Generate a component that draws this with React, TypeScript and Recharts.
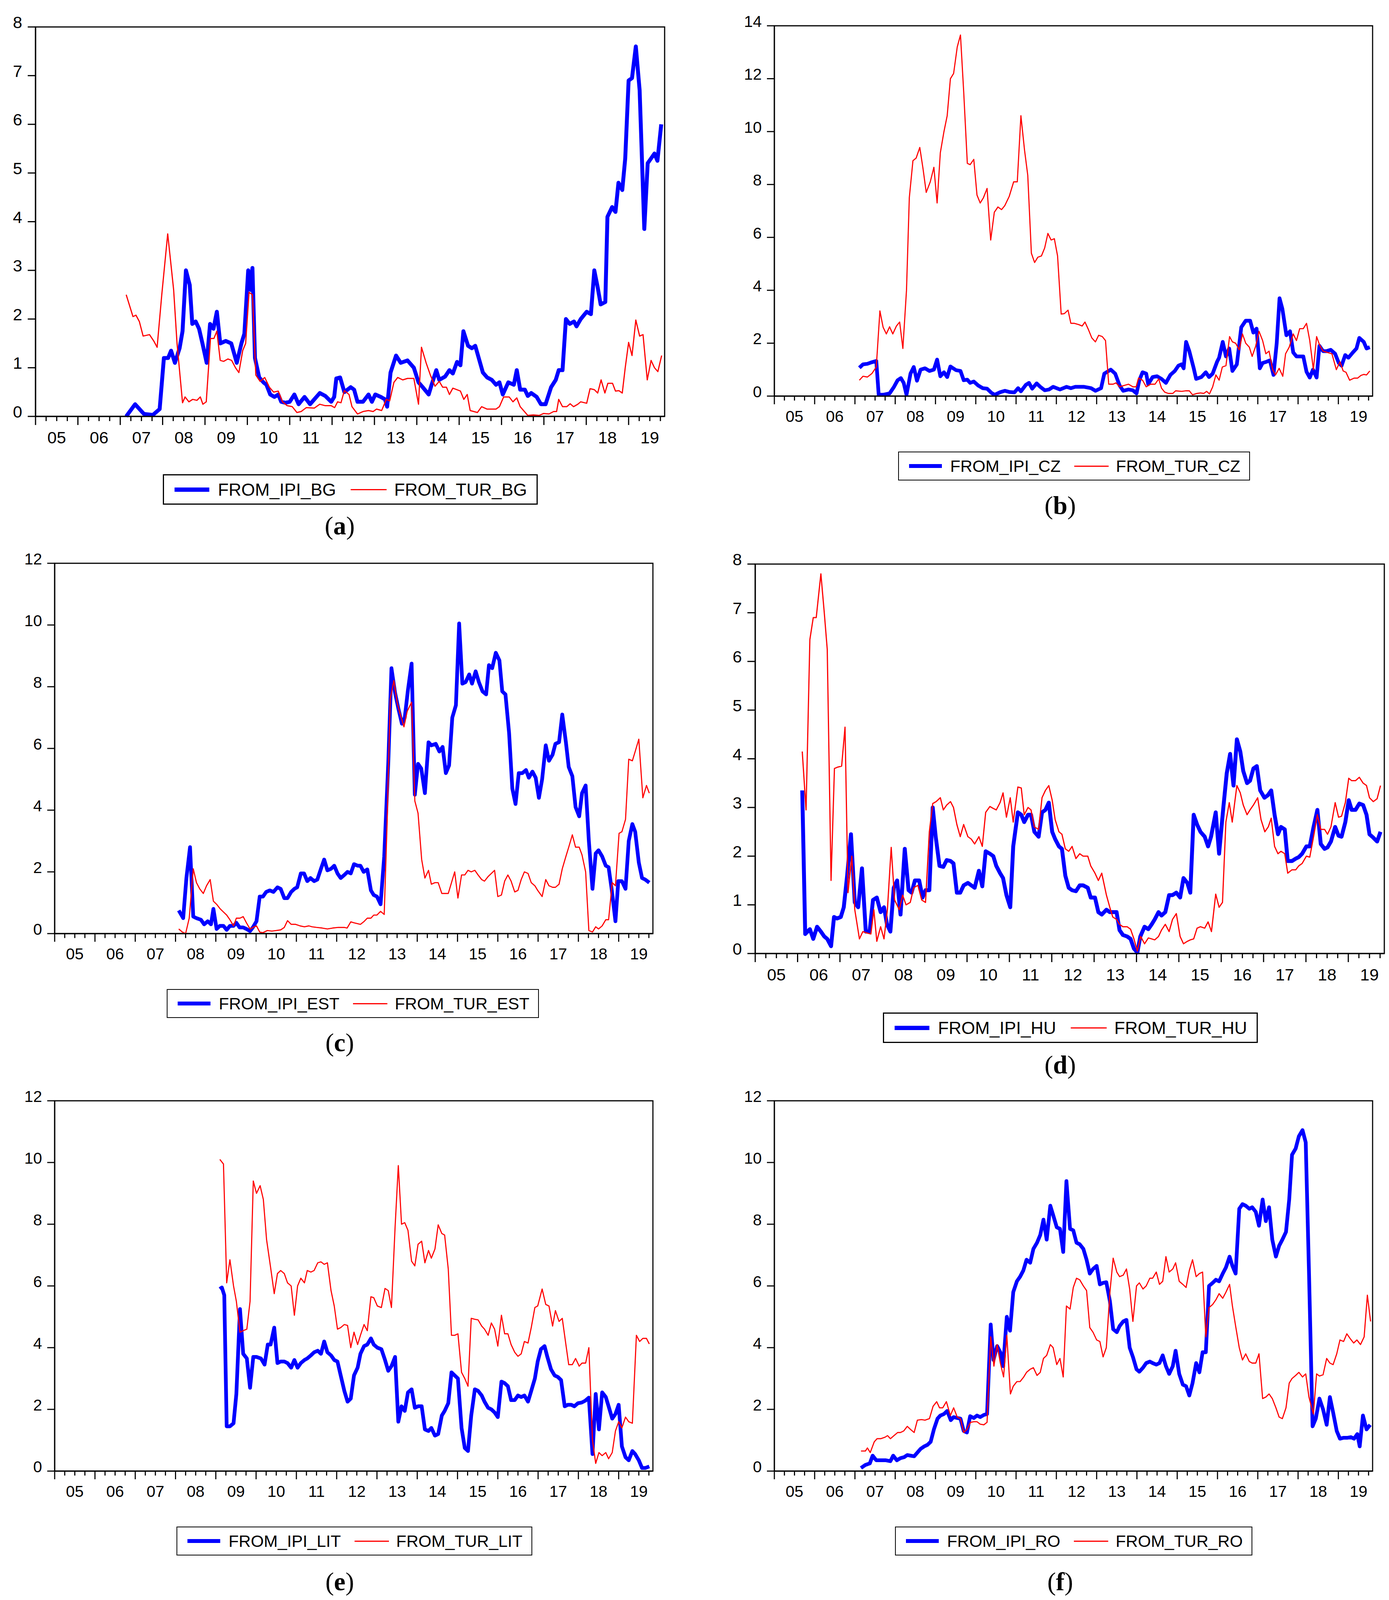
import React from 'react';
import { LineChart, Line, XAxis, YAxis, ReferenceArea } from 'recharts';

// x axis: decimal years, quarterly ticks, labels mid-year
const YEARS = [2005, 2006, 2007, 2008, 2009, 2010, 2011, 2012, 2013, 2014, 2015, 2016, 2017, 2018, 2019];
const YEAR_LABELS = ['05', '06', '07', '08', '09', '10', '11', '12', '13', '14', '15', '16', '17', '18', '19'];
const X_MIN = 2005;
const X_MAX = 2019.85;

const Y_TICKS_8 = [0, 1, 2, 3, 4, 5, 6, 7, 8];
const Y_TICKS_12 = [0, 2, 4, 6, 8, 10, 12];
const Y_TICKS_14 = [0, 2, 4, 6, 8, 10, 12, 14];
const Y_TICKS_16 = [0, 2, 4, 6, 8, 10, 12, 14, 16];

// [year, value] pairs
const IPI_BG = [[2007.14,0],[2007.35,0.25],[2007.56,0.05],[2007.77,0.03],[2007.93,0.15],[2008.03,1.2],[2008.13,1.2],[2008.2,1.35],[2008.29,1.1],[2008.4,1.4],[2008.47,1.75],[2008.55,3.0],[2008.64,2.7],[2008.7,1.9],[2008.78,1.95],[2008.86,1.8],[2008.94,1.5],[2009.04,1.1],[2009.12,1.9],[2009.2,1.8],[2009.28,2.15],[2009.36,1.5],[2009.49,1.55],[2009.62,1.5],[2009.75,1.1],[2009.86,1.5],[2009.93,1.7],[2010.02,3.0],[2010.07,2.6],[2010.12,3.05],[2010.18,1.2],[2010.28,0.8],[2010.38,0.7],[2010.45,0.65],[2010.54,0.45],[2010.64,0.4],[2010.73,0.45],[2010.8,0.3],[2010.9,0.28],[2011.0,0.3],[2011.11,0.45],[2011.21,0.25],[2011.35,0.4],[2011.48,0.25],[2011.58,0.35],[2011.71,0.48],[2011.84,0.42],[2011.98,0.3],[2012.05,0.4],[2012.1,0.78],[2012.19,0.8],[2012.29,0.5],[2012.44,0.6],[2012.52,0.55],[2012.6,0.3],[2012.73,0.3],[2012.86,0.45],[2012.94,0.3],[2013.02,0.45],[2013.15,0.4],[2013.25,0.35],[2013.3,0.2],[2013.38,0.9],[2013.51,1.25],[2013.62,1.1],[2013.78,1.15],[2013.93,1.0],[2014.04,0.7],[2014.14,0.6],[2014.28,0.45],[2014.35,0.65],[2014.46,0.95],[2014.53,0.75],[2014.67,0.82],[2014.77,0.95],[2014.85,0.88],[2014.95,1.12],[2015.03,1.05],[2015.1,1.75],[2015.21,1.45],[2015.3,1.4],[2015.38,1.45],[2015.56,0.9],[2015.66,0.8],[2015.77,0.75],[2015.87,0.65],[2015.95,0.7],[2016.03,0.45],[2016.16,0.7],[2016.29,0.65],[2016.36,0.95],[2016.44,0.55],[2016.55,0.55],[2016.62,0.42],[2016.7,0.48],[2016.83,0.4],[2016.93,0.25],[2017.04,0.25],[2017.17,0.6],[2017.28,0.75],[2017.35,0.95],[2017.44,0.95],[2017.52,2.0],[2017.61,1.9],[2017.71,1.95],[2017.77,1.85],[2017.87,2.0],[2018.01,2.15],[2018.11,2.1],[2018.19,3.0],[2018.27,2.65],[2018.34,2.3],[2018.45,2.35],[2018.5,4.1],[2018.61,4.3],[2018.69,4.2],[2018.76,4.8],[2018.85,4.65],[2018.92,5.3],[2019.0,6.9],[2019.08,6.95],[2019.17,7.6],[2019.26,6.7],[2019.37,3.85],[2019.45,5.2],[2019.53,5.3],[2019.61,5.4],[2019.68,5.25],[2019.77,6.0]];
const TUR_BG = [[2007.14,2.5],[2007.3,2.05],[2007.37,2.08],[2007.45,1.95],[2007.54,1.65],[2007.69,1.68],[2007.79,1.55],[2007.87,1.42],[2007.98,2.5],[2008.12,3.75],[2008.26,2.6],[2008.34,1.5],[2008.47,0.28],[2008.53,0.4],[2008.62,0.3],[2008.71,0.35],[2008.81,0.33],[2008.89,0.4],[2008.95,0.25],[2009.03,0.3],[2009.13,1.6],[2009.21,1.6],[2009.28,1.75],[2009.36,1.15],[2009.44,1.13],[2009.54,1.18],[2009.63,1.15],[2009.72,1.0],[2009.8,0.9],[2009.89,1.35],[2009.96,1.5],[2010.04,2.55],[2010.12,2.5],[2010.2,0.85],[2010.3,0.72],[2010.41,0.8],[2010.52,0.6],[2010.62,0.5],[2010.73,0.52],[2010.83,0.3],[2010.94,0.22],[2011.06,0.2],[2011.17,0.08],[2011.27,0.1],[2011.39,0.18],[2011.58,0.17],[2011.71,0.25],[2011.84,0.22],[2011.98,0.22],[2012.06,0.18],[2012.13,0.3],[2012.21,0.28],[2012.29,0.53],[2012.4,0.45],[2012.47,0.2],[2012.6,0.05],[2012.73,0.1],[2012.86,0.12],[2012.97,0.1],[2013.05,0.15],[2013.17,0.12],[2013.28,0.35],[2013.36,0.32],[2013.46,0.7],[2013.55,0.8],[2013.67,0.75],[2013.78,0.78],[2013.93,0.78],[2014.04,0.25],[2014.11,1.42],[2014.22,1.1],[2014.32,0.85],[2014.43,0.62],[2014.53,0.72],[2014.61,0.6],[2014.7,0.6],[2014.77,0.45],[2014.85,0.58],[2015.03,0.52],[2015.11,0.35],[2015.19,0.45],[2015.26,0.12],[2015.43,0.08],[2015.53,0.2],[2015.66,0.15],[2015.87,0.15],[2015.95,0.2],[2016.05,0.4],[2016.18,0.4],[2016.27,0.3],[2016.36,0.38],[2016.44,0.2],[2016.62,0.02],[2016.75,0.03],[2016.89,0.02],[2016.99,0.06],[2017.12,0.05],[2017.23,0.1],[2017.3,0.1],[2017.35,0.35],[2017.44,0.2],[2017.54,0.2],[2017.62,0.26],[2017.7,0.2],[2017.8,0.25],[2017.87,0.3],[2018.01,0.27],[2018.09,0.57],[2018.19,0.55],[2018.27,0.48],[2018.35,0.75],[2018.44,0.48],[2018.51,0.68],[2018.62,0.68],[2018.69,0.52],[2018.77,0.53],[2018.85,0.48],[2018.92,1.0],[2019.0,1.52],[2019.08,1.25],[2019.17,1.98],[2019.26,1.65],[2019.34,1.68],[2019.44,0.75],[2019.53,1.15],[2019.61,1.0],[2019.69,0.92],[2019.78,1.25]];

const IPI_CZ = [[2007.11,1.07],[2007.2,1.2],[2007.31,1.22],[2007.42,1.28],[2007.53,1.33],[2007.59,0.05],[2007.7,0.05],[2007.86,0.1],[2007.97,0.35],[2008.06,0.6],[2008.14,0.68],[2008.21,0.5],[2008.28,0.05],[2008.38,0.85],[2008.46,1.1],[2008.54,0.58],[2008.63,1.0],[2008.74,1.05],[2008.85,0.95],[2008.96,1.0],[2009.04,1.38],[2009.12,0.75],[2009.21,0.9],[2009.29,0.72],[2009.37,1.12],[2009.51,0.98],[2009.62,0.95],[2009.7,0.6],[2009.79,0.62],[2009.86,0.5],[2009.95,0.55],[2010.06,0.4],[2010.17,0.3],[2010.28,0.28],[2010.39,0.12],[2010.47,0.05],[2010.61,0.15],[2010.72,0.2],[2010.85,0.15],[2010.96,0.14],[2011.05,0.3],[2011.12,0.18],[2011.24,0.42],[2011.32,0.5],[2011.4,0.28],[2011.51,0.48],[2011.6,0.35],[2011.71,0.22],[2011.82,0.25],[2011.92,0.35],[2012.09,0.25],[2012.25,0.35],[2012.36,0.3],[2012.47,0.35],[2012.69,0.35],[2012.86,0.3],[2012.97,0.2],[2013.11,0.3],[2013.19,0.85],[2013.35,1.0],[2013.46,0.85],[2013.57,0.4],[2013.66,0.2],[2013.79,0.25],[2013.9,0.22],[2013.99,0.1],[2014.06,0.6],[2014.14,0.9],[2014.23,0.85],[2014.28,0.45],[2014.39,0.72],[2014.5,0.75],[2014.61,0.65],[2014.72,0.5],[2014.83,0.8],[2014.94,0.95],[2015.03,1.15],[2015.11,1.2],[2015.16,1.05],[2015.22,2.05],[2015.3,1.7],[2015.41,1.05],[2015.47,0.65],[2015.6,0.72],[2015.71,0.9],[2015.79,0.72],[2015.88,0.85],[2015.99,1.3],[2016.04,1.45],[2016.13,2.05],[2016.21,1.5],[2016.29,1.8],[2016.37,0.95],[2016.48,1.2],[2016.59,2.6],[2016.7,2.85],[2016.81,2.85],[2016.89,2.4],[2016.97,2.55],[2017.05,1.05],[2017.12,1.25],[2017.22,1.3],[2017.3,1.35],[2017.39,0.8],[2017.47,2.0],[2017.54,3.7],[2017.61,3.3],[2017.71,2.3],[2017.8,2.45],[2017.88,1.65],[2017.96,1.5],[2018.13,1.5],[2018.21,0.92],[2018.29,0.7],[2018.37,1.0],[2018.46,0.7],[2018.53,1.9],[2018.62,1.7],[2018.71,1.7],[2018.81,1.75],[2018.92,1.6],[2019.01,1.25],[2019.08,1.15],[2019.17,1.55],[2019.25,1.45],[2019.36,1.65],[2019.45,1.8],[2019.52,2.2],[2019.63,2.05],[2019.7,1.8],[2019.78,1.85]];
const TUR_CZ = [[2007.11,0.6],[2007.2,0.75],[2007.31,0.72],[2007.42,0.85],[2007.53,1.1],[2007.62,3.22],[2007.7,2.6],[2007.78,2.35],[2007.86,2.62],[2007.94,2.35],[2008.03,2.65],[2008.11,2.8],[2008.19,1.8],[2008.28,4.0],[2008.35,7.5],[2008.44,8.9],[2008.52,9.0],[2008.61,9.4],[2008.69,8.6],[2008.77,7.7],[2008.87,8.1],[2008.96,8.65],[2009.04,7.3],[2009.12,9.2],[2009.21,10.0],[2009.29,10.6],[2009.37,12.0],[2009.45,12.2],[2009.54,13.2],[2009.62,13.65],[2009.7,11.5],[2009.79,8.8],[2009.86,8.75],[2009.95,8.95],[2010.03,7.6],[2010.11,7.3],[2010.19,7.5],[2010.28,7.85],[2010.37,5.9],[2010.46,6.95],[2010.55,7.15],[2010.64,7.05],[2010.72,7.2],[2010.83,7.55],[2010.94,8.1],[2011.03,8.1],[2011.12,10.6],[2011.21,9.3],[2011.29,8.35],[2011.38,5.4],[2011.46,5.05],[2011.54,5.25],[2011.63,5.3],[2011.71,5.6],[2011.79,6.15],[2011.87,5.9],[2011.95,5.95],[2012.03,5.3],[2012.12,3.1],[2012.2,3.12],[2012.29,3.25],[2012.36,2.75],[2012.45,2.75],[2012.56,2.7],[2012.64,2.65],[2012.71,2.8],[2012.8,2.5],[2012.88,2.2],[2012.97,2.05],[2013.05,2.3],[2013.14,2.25],[2013.22,2.1],[2013.3,0.45],[2013.41,0.45],[2013.48,0.5],[2013.57,0.35],[2013.68,0.4],[2013.79,0.45],[2013.9,0.35],[2013.98,0.35],[2014.04,0.68],[2014.14,0.6],[2014.23,0.35],[2014.34,0.45],[2014.45,0.45],[2014.54,0.65],[2014.61,0.3],[2014.69,0.15],[2014.78,0.1],[2014.89,0.1],[2014.96,0.2],[2015.11,0.18],[2015.22,0.2],[2015.3,0.2],[2015.38,0.05],[2015.49,0.1],[2015.58,0.12],[2015.66,0.1],[2015.73,0.18],[2015.8,0.08],[2015.88,0.35],[2015.96,0.8],[2016.04,0.6],[2016.12,1.1],[2016.21,1.15],[2016.3,2.25],[2016.37,2.05],[2016.45,2.0],[2016.54,1.75],[2016.62,2.35],[2016.7,2.0],[2016.79,1.85],[2016.86,1.5],[2016.95,1.9],[2017.03,2.45],[2017.12,2.1],[2017.2,1.6],[2017.28,1.7],[2017.37,1.0],[2017.44,0.8],[2017.53,1.05],[2017.62,0.75],[2017.69,1.6],[2017.78,1.85],[2017.88,2.35],[2017.96,2.1],[2018.04,2.55],[2018.13,2.55],[2018.21,2.75],[2018.29,2.1],[2018.38,1.0],[2018.46,2.25],[2018.53,1.95],[2018.62,1.7],[2018.73,1.65],[2018.84,1.6],[2018.95,1.0],[2019.04,1.3],[2019.12,0.95],[2019.19,0.9],[2019.28,0.6],[2019.39,0.68],[2019.48,0.68],[2019.56,0.78],[2019.63,0.82],[2019.7,0.8],[2019.78,0.95]];

const IPI_EST = [[2008.08,0.75],[2008.19,0.5],[2008.27,1.8],[2008.36,2.8],[2008.44,0.55],[2008.52,0.5],[2008.63,0.45],[2008.71,0.3],[2008.8,0.4],[2008.88,0.3],[2008.94,0.8],[2009.02,0.15],[2009.1,0.25],[2009.19,0.25],[2009.27,0.12],[2009.35,0.25],[2009.44,0.25],[2009.51,0.35],[2009.59,0.2],[2009.68,0.2],[2009.76,0.15],[2009.85,0.08],[2009.92,0.2],[2010.01,0.4],[2010.09,1.2],[2010.17,1.2],[2010.25,1.35],[2010.34,1.4],[2010.43,1.35],[2010.53,1.5],[2010.61,1.45],[2010.7,1.15],[2010.78,1.15],[2010.87,1.35],[2010.95,1.45],[2011.02,1.5],[2011.11,1.95],[2011.19,1.95],[2011.27,1.7],[2011.35,1.8],[2011.44,1.7],[2011.52,1.75],[2011.61,2.1],[2011.69,2.4],[2011.77,2.05],[2011.86,2.1],[2011.94,2.2],[2012.02,1.95],[2012.1,1.8],[2012.19,1.9],[2012.27,2.0],[2012.35,1.95],[2012.43,2.25],[2012.52,2.2],[2012.59,2.2],[2012.67,2.0],[2012.76,2.08],[2012.85,1.4],[2012.92,1.25],[2013.0,1.2],[2013.09,0.95],[2013.18,2.5],[2013.28,5.5],[2013.36,8.6],[2013.45,7.8],[2013.53,7.3],[2013.62,6.8],[2013.69,7.0],[2013.77,7.9],[2013.86,8.75],[2013.94,4.5],[2014.02,5.5],[2014.1,5.35],[2014.19,4.55],[2014.28,6.2],[2014.35,6.1],[2014.46,6.15],[2014.55,5.9],[2014.63,6.05],[2014.71,5.2],[2014.79,5.45],[2014.87,7.0],[2014.96,7.4],[2015.04,10.05],[2015.12,8.1],[2015.2,8.15],[2015.29,8.4],[2015.36,8.1],[2015.45,8.5],[2015.53,8.15],[2015.62,7.85],[2015.71,7.75],[2015.78,8.7],[2015.86,8.6],[2015.95,9.1],[2016.04,8.85],[2016.11,7.85],[2016.19,7.75],[2016.28,6.5],[2016.36,4.7],[2016.44,4.2],[2016.52,5.2],[2016.61,5.2],[2016.7,5.3],[2016.77,5.05],[2016.86,5.25],[2016.94,5.05],[2017.02,4.4],[2017.1,5.0],[2017.19,6.1],[2017.27,5.6],[2017.36,5.8],[2017.43,6.15],[2017.52,6.2],[2017.6,7.1],[2017.69,6.2],[2017.76,5.4],[2017.85,5.1],[2017.93,4.1],[2018.02,3.8],[2018.09,4.55],[2018.18,4.8],[2018.26,3.0],[2018.35,1.45],[2018.43,2.6],[2018.5,2.7],[2018.59,2.5],[2018.68,2.2],[2018.75,2.15],[2018.83,1.4],[2018.92,0.4],[2018.99,1.7],[2019.08,1.7],[2019.17,1.45],[2019.25,3.0],[2019.34,3.55],[2019.41,3.3],[2019.5,2.3],[2019.58,1.8],[2019.66,1.75],[2019.76,1.65]];
const TUR_EST = [[2008.08,0.15],[2008.17,0.05],[2008.25,0.0],[2008.34,0.5],[2008.44,2.1],[2008.52,1.65],[2008.6,1.45],[2008.69,1.3],[2008.77,1.55],[2008.86,1.75],[2008.94,1.05],[2009.02,0.95],[2009.11,0.8],[2009.19,0.7],[2009.27,0.6],[2009.35,0.45],[2009.44,0.25],[2009.51,0.5],[2009.6,0.5],[2009.68,0.55],[2009.76,0.35],[2009.85,0.15],[2009.92,0.2],[2010.01,0.25],[2010.09,0.05],[2010.17,0.03],[2010.28,0.1],[2010.39,0.08],[2010.5,0.1],[2010.61,0.12],[2010.7,0.2],[2010.78,0.42],[2010.87,0.3],[2010.98,0.3],[2011.09,0.25],[2011.2,0.22],[2011.31,0.25],[2011.39,0.22],[2011.5,0.2],[2011.64,0.18],[2011.77,0.15],[2011.9,0.18],[2012.04,0.2],[2012.19,0.2],[2012.26,0.18],[2012.35,0.38],[2012.43,0.35],[2012.59,0.3],[2012.67,0.38],[2012.76,0.5],[2012.85,0.5],[2012.92,0.6],[2013.0,0.6],[2013.09,0.72],[2013.18,0.62],[2013.25,3.5],[2013.33,7.6],[2013.42,8.2],[2013.5,7.5],[2013.58,7.1],[2013.67,6.7],[2013.75,7.2],[2013.86,7.5],[2013.94,4.3],[2014.02,3.9],[2014.11,2.4],[2014.19,1.8],[2014.28,2.05],[2014.35,1.6],[2014.44,1.65],[2014.52,1.65],[2014.61,1.3],[2014.68,1.3],[2014.77,1.3],[2014.85,1.65],[2014.93,2.0],[2015.01,1.15],[2015.1,1.9],[2015.18,1.9],[2015.26,2.05],[2015.34,2.0],[2015.43,2.05],[2015.51,1.9],[2015.6,1.75],[2015.67,1.7],[2015.76,1.85],[2015.84,1.95],[2015.92,2.05],[2016.0,1.2],[2016.09,1.25],[2016.17,1.7],[2016.25,1.9],[2016.33,1.7],[2016.42,1.35],[2016.5,1.4],[2016.58,1.75],[2016.66,2.0],[2016.75,1.95],[2016.83,1.65],[2016.92,1.55],[2016.99,1.4],[2017.1,1.2],[2017.19,1.75],[2017.27,1.55],[2017.36,1.5],[2017.43,1.5],[2017.52,1.6],[2017.6,2.1],[2017.69,2.5],[2017.76,2.8],[2017.85,3.2],[2017.93,2.8],[2018.02,2.8],[2018.09,2.55],[2018.18,2.0],[2018.26,0.1],[2018.35,0.05],[2018.43,0.22],[2018.5,0.15],[2018.59,0.25],[2018.68,0.45],[2018.75,0.45],[2018.84,1.65],[2018.92,1.55],[2019.01,3.25],[2019.08,3.3],[2019.17,3.7],[2019.25,5.65],[2019.34,5.6],[2019.41,5.9],[2019.5,6.3],[2019.6,4.4],[2019.69,4.8],[2019.76,4.55]];

const IPI_HU = [[2006.11,3.35],[2006.18,0.4],[2006.29,0.5],[2006.37,0.3],[2006.46,0.55],[2006.55,0.45],[2006.63,0.35],[2006.7,0.3],[2006.79,0.15],[2006.86,0.75],[2006.93,0.72],[2007.02,0.75],[2007.09,0.95],[2007.17,1.6],[2007.26,2.45],[2007.35,1.05],[2007.43,0.95],[2007.52,1.75],[2007.61,0.45],[2007.7,0.45],[2007.78,1.1],[2007.87,1.15],[2007.96,0.85],[2008.04,0.95],[2008.11,0.6],[2008.19,0.45],[2008.27,1.35],[2008.35,1.5],[2008.43,0.8],[2008.53,2.15],[2008.62,1.3],[2008.69,1.25],[2008.77,1.5],[2008.87,1.5],[2008.95,1.15],[2009.02,1.3],[2009.11,1.3],[2009.19,3.0],[2009.26,2.4],[2009.35,1.8],[2009.44,1.78],[2009.52,1.92],[2009.61,1.9],[2009.68,1.85],[2009.76,1.25],[2009.84,1.25],[2009.92,1.4],[2010.02,1.45],[2010.1,1.4],[2010.18,1.35],[2010.28,1.7],[2010.36,1.38],[2010.44,2.1],[2010.54,2.05],[2010.62,2.0],[2010.69,1.8],[2010.78,1.65],[2010.85,1.55],[2010.93,1.2],[2011.02,0.95],[2011.09,2.2],[2011.2,2.9],[2011.28,2.85],[2011.35,2.7],[2011.44,2.85],[2011.51,2.85],[2011.59,2.5],[2011.69,2.4],[2011.77,2.9],[2011.85,2.95],[2011.93,3.1],[2012.01,2.5],[2012.08,2.35],[2012.17,2.2],[2012.24,2.15],[2012.32,1.6],[2012.4,1.35],[2012.48,1.3],[2012.57,1.28],[2012.66,1.4],[2012.74,1.4],[2012.85,1.35],[2012.92,1.15],[2013.02,1.15],[2013.1,0.85],[2013.18,0.8],[2013.29,0.9],[2013.37,0.85],[2013.44,0.85],[2013.53,0.85],[2013.6,0.48],[2013.68,0.38],[2013.78,0.35],[2013.86,0.3],[2013.94,0.1],[2014.02,0.02],[2014.09,0.35],[2014.19,0.55],[2014.28,0.5],[2014.36,0.6],[2014.43,0.7],[2014.52,0.85],[2014.59,0.78],[2014.68,0.85],[2014.77,1.2],[2014.85,1.2],[2014.94,1.25],[2015.03,1.15],[2015.11,1.55],[2015.2,1.45],[2015.27,1.25],[2015.35,2.85],[2015.43,2.65],[2015.51,2.5],[2015.61,2.4],[2015.69,2.2],[2015.76,2.4],[2015.87,2.9],[2015.95,2.05],[2016.05,3.0],[2016.13,3.7],[2016.21,4.1],[2016.29,3.45],[2016.37,4.4],[2016.45,4.15],[2016.52,3.75],[2016.61,3.5],[2016.68,3.55],[2016.76,3.8],[2016.84,3.85],[2016.92,3.35],[2017.02,3.2],[2017.1,3.25],[2017.18,3.35],[2017.26,2.85],[2017.34,2.45],[2017.41,2.6],[2017.5,2.55],[2017.57,1.9],[2017.67,1.9],[2017.76,1.95],[2017.83,1.98],[2017.91,2.05],[2018.01,2.2],[2018.09,2.2],[2018.18,2.6],[2018.27,2.95],[2018.35,2.25],[2018.44,2.15],[2018.51,2.18],[2018.59,2.3],[2018.69,2.6],[2018.77,2.42],[2018.84,2.4],[2018.93,2.7],[2019.01,3.15],[2019.08,2.95],[2019.17,2.95],[2019.26,3.08],[2019.35,3.05],[2019.43,2.85],[2019.5,2.45],[2019.59,2.38],[2019.68,2.3],[2019.76,2.5]];
const TUR_HU = [[2006.11,4.15],[2006.2,2.95],[2006.29,6.45],[2006.37,6.9],[2006.44,6.9],[2006.55,7.8],[2006.63,7.0],[2006.7,6.25],[2006.79,1.5],[2006.87,3.8],[2006.95,3.83],[2007.04,3.85],[2007.12,4.65],[2007.19,1.25],[2007.28,2.0],[2007.35,0.9],[2007.46,0.3],[2007.54,0.45],[2007.64,0.42],[2007.73,0.4],[2007.8,0.9],[2007.87,0.25],[2007.96,0.55],[2008.04,0.3],[2008.12,0.9],[2008.21,2.18],[2008.29,1.1],[2008.4,0.9],[2008.48,1.2],[2008.56,1.0],[2008.66,1.05],[2008.74,1.35],[2008.84,1.4],[2008.93,1.1],[2009.02,1.05],[2009.11,2.5],[2009.19,3.08],[2009.27,3.12],[2009.37,3.2],[2009.44,2.95],[2009.52,3.05],[2009.61,3.12],[2009.68,3.0],[2009.76,2.65],[2009.84,2.4],[2009.92,2.65],[2010.02,2.4],[2010.1,2.35],[2010.18,2.25],[2010.28,2.4],[2010.36,2.2],[2010.44,2.9],[2010.54,3.02],[2010.62,2.98],[2010.69,2.95],[2010.78,3.1],[2010.85,3.3],[2010.93,2.8],[2011.02,3.2],[2011.09,2.7],[2011.2,3.42],[2011.28,3.4],[2011.35,2.85],[2011.44,3.0],[2011.51,2.95],[2011.59,2.6],[2011.69,2.55],[2011.77,3.2],[2011.85,3.35],[2011.93,3.45],[2012.01,3.15],[2012.08,2.75],[2012.17,2.5],[2012.24,2.45],[2012.32,2.15],[2012.4,2.1],[2012.48,2.2],[2012.57,1.95],[2012.66,2.05],[2012.74,2.0],[2012.85,2.0],[2012.92,1.8],[2013.02,1.65],[2013.1,1.5],[2013.18,1.65],[2013.29,1.2],[2013.37,0.95],[2013.44,0.75],[2013.53,0.7],[2013.6,0.6],[2013.68,0.55],[2013.78,0.55],[2013.86,0.5],[2013.94,0.3],[2014.02,0.05],[2014.1,0.35],[2014.19,0.2],[2014.28,0.32],[2014.36,0.3],[2014.43,0.28],[2014.52,0.35],[2014.59,0.48],[2014.68,0.6],[2014.77,0.45],[2014.85,0.7],[2014.94,0.82],[2015.03,0.35],[2015.11,0.2],[2015.2,0.25],[2015.27,0.28],[2015.35,0.3],[2015.43,0.52],[2015.51,0.55],[2015.61,0.52],[2015.69,0.65],[2015.77,0.45],[2015.87,1.22],[2015.95,0.95],[2016.03,1.05],[2016.11,2.7],[2016.19,3.1],[2016.26,2.7],[2016.37,3.45],[2016.45,3.3],[2016.52,3.05],[2016.61,2.85],[2016.68,2.95],[2016.76,3.05],[2016.86,3.2],[2016.94,2.75],[2017.03,2.5],[2017.11,2.6],[2017.18,2.78],[2017.26,2.2],[2017.34,2.05],[2017.41,2.1],[2017.5,2.05],[2017.57,1.65],[2017.67,1.72],[2017.76,1.72],[2017.83,1.8],[2017.91,1.85],[2018.01,2.0],[2018.09,1.98],[2018.18,2.4],[2018.27,2.85],[2018.35,2.55],[2018.44,2.55],[2018.51,2.45],[2018.59,2.6],[2018.69,3.1],[2018.77,2.8],[2018.84,2.82],[2018.93,3.1],[2019.01,3.6],[2019.08,3.55],[2019.17,3.55],[2019.26,3.62],[2019.35,3.5],[2019.43,3.45],[2019.5,3.2],[2019.59,3.12],[2019.68,3.18],[2019.76,3.45]];

const IPI_LIT = [[2009.1,5.9],[2009.15,5.95],[2009.21,5.7],[2009.27,1.45],[2009.35,1.45],[2009.44,1.55],[2009.51,2.5],[2009.6,5.25],[2009.68,3.8],[2009.77,3.65],[2009.85,2.7],[2009.93,3.7],[2010.01,3.7],[2010.12,3.65],[2010.21,3.45],[2010.29,4.1],[2010.36,4.1],[2010.45,4.65],[2010.53,3.5],[2010.61,3.55],[2010.7,3.55],[2010.78,3.5],[2010.87,3.35],[2010.95,3.6],[2011.03,3.35],[2011.11,3.5],[2011.2,3.6],[2011.27,3.65],[2011.36,3.75],[2011.44,3.85],[2011.53,3.9],[2011.61,3.8],[2011.69,4.2],[2011.77,3.85],[2011.86,3.75],[2011.94,3.6],[2012.02,3.55],[2012.1,3.1],[2012.19,2.6],[2012.27,2.25],[2012.35,2.35],[2012.43,3.1],[2012.52,3.35],[2012.59,3.8],[2012.68,4.05],[2012.76,4.1],[2012.85,4.3],[2012.92,4.1],[2013.01,4.0],[2013.11,3.95],[2013.2,3.6],[2013.28,3.25],[2013.36,3.4],[2013.45,3.7],[2013.53,1.6],[2013.61,2.1],[2013.69,1.95],[2013.77,2.55],[2013.86,2.65],[2013.94,2.05],[2014.02,2.1],[2014.11,2.1],[2014.19,1.35],[2014.28,1.3],[2014.35,1.4],[2014.44,1.15],[2014.52,1.2],[2014.61,1.8],[2014.68,1.95],[2014.77,2.2],[2014.85,3.2],[2014.93,3.1],[2015.01,3.0],[2015.1,1.4],[2015.18,0.75],[2015.26,0.65],[2015.34,1.8],[2015.43,2.65],[2015.51,2.6],[2015.6,2.45],[2015.67,2.25],[2015.76,2.05],[2015.84,2.0],[2015.92,1.9],[2016.0,1.75],[2016.09,2.9],[2016.17,2.85],[2016.25,2.75],[2016.33,2.3],[2016.42,2.3],[2016.5,2.45],[2016.58,2.4],[2016.66,2.45],[2016.75,2.25],[2016.83,2.6],[2016.92,3.0],[2016.99,3.55],[2017.07,3.95],[2017.16,4.05],[2017.23,3.7],[2017.32,3.3],[2017.41,3.1],[2017.49,3.05],[2017.57,2.95],[2017.66,2.1],[2017.74,2.15],[2017.82,2.15],[2017.9,2.1],[2017.99,2.2],[2018.08,2.22],[2018.17,2.28],[2018.26,2.38],[2018.35,0.55],[2018.43,2.5],[2018.51,1.35],[2018.59,2.55],[2018.68,2.4],[2018.75,2.1],[2018.84,1.7],[2018.92,1.85],[2019.0,2.15],[2019.08,0.8],[2019.17,0.45],[2019.25,0.35],[2019.34,0.65],[2019.41,0.55],[2019.5,0.35],[2019.58,0.1],[2019.66,0.1],[2019.76,0.15]];
const TUR_LIT = [[2009.1,10.1],[2009.19,9.95],[2009.27,6.1],[2009.35,6.85],[2009.44,6.0],[2009.51,5.5],[2009.6,4.5],[2009.68,4.55],[2009.77,4.6],[2009.85,5.5],[2009.93,9.4],[2010.01,9.0],[2010.1,9.25],[2010.18,8.8],[2010.26,7.5],[2010.36,6.6],[2010.45,5.75],[2010.53,6.4],[2010.61,6.5],[2010.7,6.4],[2010.78,6.1],[2010.87,6.0],[2010.95,5.05],[2011.03,6.0],[2011.11,6.25],[2011.2,6.1],[2011.27,6.5],[2011.36,6.45],[2011.44,6.5],[2011.53,6.75],[2011.61,6.78],[2011.69,6.7],[2011.77,6.75],[2011.86,5.85],[2011.94,5.35],[2012.02,4.6],[2012.1,4.65],[2012.19,4.75],[2012.27,4.72],[2012.35,4.0],[2012.43,4.5],[2012.52,4.1],[2012.59,4.4],[2012.68,4.75],[2012.76,4.55],[2012.85,5.65],[2012.92,5.62],[2013.01,5.35],[2013.11,5.3],[2013.2,5.92],[2013.28,5.85],[2013.36,5.3],[2013.45,7.9],[2013.53,9.9],[2013.61,8.0],[2013.69,8.05],[2013.77,7.8],[2013.86,6.8],[2013.94,6.65],[2014.02,7.35],[2014.11,7.45],[2014.19,6.75],[2014.28,7.15],[2014.35,6.9],[2014.44,7.2],[2014.52,7.98],[2014.61,7.7],[2014.68,7.65],[2014.77,6.55],[2014.85,4.4],[2014.93,4.4],[2015.01,4.45],[2015.1,3.2],[2015.18,3.0],[2015.26,2.75],[2015.34,4.95],[2015.43,4.92],[2015.51,4.9],[2015.6,4.7],[2015.67,4.6],[2015.76,4.4],[2015.84,4.8],[2015.92,4.6],[2016.0,4.05],[2016.09,5.05],[2016.17,4.45],[2016.25,4.45],[2016.33,4.1],[2016.42,3.85],[2016.5,3.72],[2016.58,3.8],[2016.66,4.2],[2016.75,4.15],[2016.83,4.65],[2016.92,5.3],[2016.99,5.35],[2017.1,5.9],[2017.19,5.4],[2017.27,5.35],[2017.36,4.7],[2017.43,5.2],[2017.52,4.85],[2017.6,4.95],[2017.69,4.1],[2017.76,3.45],[2017.85,3.45],[2017.93,3.65],[2018.02,3.4],[2018.09,3.5],[2018.18,3.5],[2018.26,4.0],[2018.35,1.0],[2018.43,0.25],[2018.51,0.6],[2018.59,0.5],[2018.68,0.6],[2018.75,0.4],[2018.84,0.6],[2018.92,1.3],[2019.0,1.6],[2019.08,1.4],[2019.17,1.75],[2019.25,1.6],[2019.34,1.55],[2019.44,4.4],[2019.52,4.2],[2019.6,4.3],[2019.69,4.3],[2019.76,4.12]];

const IPI_RO = [[2007.15,0.1],[2007.26,0.2],[2007.37,0.25],[2007.44,0.5],[2007.53,0.35],[2007.64,0.35],[2007.77,0.35],[2007.88,0.32],[2007.95,0.5],[2008.04,0.35],[2008.13,0.42],[2008.22,0.45],[2008.3,0.52],[2008.38,0.5],[2008.47,0.48],[2008.55,0.6],[2008.63,0.72],[2008.72,0.8],[2008.8,0.85],[2008.88,0.95],[2008.96,1.35],[2009.05,1.7],[2009.12,1.8],[2009.21,1.85],[2009.29,1.95],[2009.38,1.65],[2009.45,1.75],[2009.54,1.72],[2009.62,1.7],[2009.7,1.3],[2009.78,1.25],[2009.86,1.78],[2009.95,1.72],[2010.03,1.8],[2010.11,1.75],[2010.2,1.82],[2010.28,1.85],[2010.37,4.75],[2010.44,3.6],[2010.53,4.05],[2010.61,3.85],[2010.68,3.4],[2010.77,5.0],[2010.85,4.55],[2010.93,5.8],[2011.02,6.15],[2011.1,6.3],[2011.18,6.5],[2011.26,6.85],[2011.35,6.75],[2011.43,7.2],[2011.52,7.4],[2011.6,7.65],[2011.68,8.15],[2011.76,7.5],[2011.85,8.6],[2011.92,8.3],[2012.01,7.9],[2012.09,7.85],[2012.17,7.1],[2012.25,9.4],[2012.34,7.85],[2012.42,7.8],[2012.5,7.4],[2012.58,7.35],[2012.67,7.2],[2012.75,6.85],[2012.83,6.4],[2012.91,6.55],[2013.0,6.65],[2013.08,6.05],[2013.16,6.1],[2013.24,6.12],[2013.33,5.5],[2013.41,4.6],[2013.5,4.5],[2013.57,4.7],[2013.66,4.85],[2013.74,4.9],[2013.82,4.0],[2013.9,3.7],[2013.99,3.3],[2014.06,3.22],[2014.15,3.35],[2014.23,3.5],[2014.32,3.55],[2014.39,3.5],[2014.48,3.45],[2014.56,3.5],[2014.64,3.75],[2014.72,3.4],[2014.8,3.15],[2014.89,3.4],[2014.96,3.9],[2015.05,3.15],[2015.14,2.8],[2015.22,2.75],[2015.3,2.45],[2015.38,2.85],[2015.47,3.5],[2015.55,3.2],[2015.63,3.85],[2015.71,3.85],[2015.79,6.0],[2015.88,6.1],[2015.96,6.2],[2016.04,6.15],[2016.13,6.4],[2016.21,6.6],[2016.3,6.95],[2016.37,6.65],[2016.45,6.4],[2016.54,8.5],[2016.62,8.65],[2016.7,8.6],[2016.79,8.5],[2016.86,8.55],[2016.95,8.4],[2017.03,7.95],[2017.12,8.8],[2017.2,8.1],[2017.28,8.55],[2017.36,7.5],[2017.45,6.95],[2017.53,7.3],[2017.61,7.5],[2017.7,7.75],[2017.78,8.8],[2017.85,10.25],[2017.94,10.45],[2018.02,10.85],[2018.11,11.05],[2018.19,10.65],[2018.27,6.5],[2018.36,1.45],[2018.44,1.7],[2018.53,2.35],[2018.62,2.0],[2018.71,1.5],[2018.79,2.4],[2018.87,1.9],[2018.96,1.3],[2019.04,1.05],[2019.13,1.08],[2019.23,1.08],[2019.31,1.1],[2019.39,1.05],[2019.47,1.2],[2019.53,0.8],[2019.61,1.8],[2019.7,1.35],[2019.79,1.5]];
const TUR_RO = [[2007.15,0.65],[2007.26,0.65],[2007.31,0.75],[2007.38,0.6],[2007.48,0.95],[2007.55,1.05],[2007.64,1.05],[2007.75,1.1],[2007.81,1.15],[2007.88,1.05],[2007.97,1.15],[2008.06,1.25],[2008.13,1.25],[2008.21,1.3],[2008.3,1.45],[2008.38,1.35],[2008.47,1.25],[2008.55,1.65],[2008.65,1.67],[2008.74,1.65],[2008.85,1.7],[2008.94,2.1],[2009.03,2.25],[2009.1,2.05],[2009.18,2.05],[2009.27,2.25],[2009.37,1.8],[2009.45,2.05],[2009.54,1.75],[2009.62,1.7],[2009.7,1.25],[2009.78,1.35],[2009.87,1.58],[2009.95,1.6],[2010.03,1.6],[2010.11,1.52],[2010.2,1.5],[2010.28,1.58],[2010.37,4.35],[2010.45,3.4],[2010.53,4.1],[2010.61,3.5],[2010.69,3.05],[2010.77,4.4],[2010.86,2.5],[2010.93,2.75],[2011.02,2.9],[2011.1,2.9],[2011.19,3.05],[2011.26,3.2],[2011.35,3.3],[2011.43,3.35],[2011.52,3.1],[2011.6,3.2],[2011.68,3.65],[2011.76,3.75],[2011.85,4.1],[2011.92,4.0],[2012.01,3.45],[2012.09,3.65],[2012.17,3.05],[2012.25,5.35],[2012.34,5.25],[2012.42,5.95],[2012.5,6.25],[2012.58,6.2],[2012.67,6.0],[2012.75,5.85],[2012.83,4.65],[2012.91,4.5],[2013.0,4.25],[2013.08,4.2],[2013.16,3.7],[2013.24,4.0],[2013.33,5.8],[2013.41,6.9],[2013.5,6.45],[2013.57,6.3],[2013.66,6.35],[2013.74,6.55],[2013.82,5.9],[2013.9,4.85],[2013.99,6.0],[2014.06,6.1],[2014.15,5.9],[2014.23,6.0],[2014.32,6.25],[2014.39,6.25],[2014.48,6.45],[2014.56,6.05],[2014.64,6.15],[2014.72,6.95],[2014.8,6.45],[2014.89,6.55],[2014.96,6.75],[2015.05,6.15],[2015.14,6.05],[2015.22,5.95],[2015.3,6.5],[2015.38,6.85],[2015.47,6.3],[2015.55,6.4],[2015.63,6.45],[2015.71,4.35],[2015.79,5.3],[2015.88,5.4],[2015.96,5.55],[2016.04,5.75],[2016.13,5.6],[2016.21,5.8],[2016.3,6.05],[2016.37,5.35],[2016.45,4.7],[2016.54,4.0],[2016.62,3.6],[2016.7,3.8],[2016.79,3.55],[2016.86,3.5],[2016.95,3.5],[2017.03,3.8],[2017.12,2.35],[2017.2,2.4],[2017.28,2.5],[2017.36,2.35],[2017.45,2.05],[2017.53,1.75],[2017.61,1.7],[2017.7,2.05],[2017.78,2.85],[2017.85,3.0],[2017.94,3.1],[2018.02,3.2],[2018.11,3.05],[2018.19,3.15],[2018.27,2.4],[2018.38,1.85],[2018.46,3.15],[2018.53,3.08],[2018.62,3.12],[2018.71,3.65],[2018.79,3.5],[2018.87,3.45],[2018.96,3.8],[2019.04,4.25],[2019.13,4.2],[2019.21,4.45],[2019.29,4.3],[2019.38,4.15],[2019.46,4.25],[2019.55,4.1],[2019.64,4.35],[2019.72,5.7],[2019.8,4.85]];

const IPI_SLO = [[2005.09,5.85],[2005.17,5.9],[2005.23,5.5],[2005.28,4.7],[2005.36,3.7],[2005.42,4.1],[2005.52,5.1],[2005.61,4.1],[2005.69,2.25],[2005.78,2.25],[2005.86,2.6],[2005.94,3.05],[2006.03,3.15],[2006.11,3.25],[2006.19,2.8],[2006.27,3.0],[2006.35,2.8],[2006.44,3.7],[2006.52,5.0],[2006.6,6.05],[2006.69,5.85],[2006.77,6.0],[2006.85,5.75],[2006.93,5.4],[2007.02,5.85],[2007.11,5.9],[2007.18,5.4],[2007.26,4.0],[2007.35,2.6],[2007.43,2.4],[2007.51,1.75],[2007.59,2.3],[2007.68,2.15],[2007.76,1.85],[2007.84,2.1],[2007.94,3.0],[2008.03,1.1],[2008.11,0.0],[2008.19,0.3],[2008.27,0.3],[2008.36,0.3],[2008.44,0.3],[2008.52,0.6],[2008.6,1.15],[2008.69,1.2],[2008.78,1.4],[2008.86,1.4],[2008.93,1.05],[2009.02,0.35],[2009.1,0.4],[2009.19,0.5],[2009.26,0.65],[2009.35,1.1],[2009.44,1.1],[2009.51,1.25],[2009.6,1.05],[2009.68,1.15],[2009.77,1.2],[2009.85,1.2],[2009.93,1.25],[2010.01,1.2],[2010.1,1.05],[2010.17,0.95],[2010.26,0.95],[2010.36,1.1],[2010.45,0.9],[2010.54,1.0],[2010.61,1.25],[2010.7,1.55],[2010.78,1.45],[2010.87,1.4],[2010.95,1.7],[2011.03,1.35],[2011.11,1.45],[2011.2,1.35],[2011.27,1.2],[2011.36,0.85],[2011.44,0.7],[2011.53,0.8],[2011.61,0.78],[2011.69,0.8],[2011.77,0.7],[2011.86,0.9],[2011.94,1.05],[2012.02,1.1],[2012.1,1.0],[2012.19,0.85],[2012.27,1.05],[2012.35,1.45],[2012.43,1.45],[2012.52,1.2],[2012.59,1.25],[2012.68,1.3],[2012.76,1.3],[2012.85,1.05],[2012.92,1.4],[2013.01,2.2],[2013.09,2.9],[2013.18,2.8],[2013.25,3.5],[2013.33,3.7],[2013.42,3.6],[2013.5,4.45],[2013.58,4.45],[2013.67,4.35],[2013.75,4.3],[2013.86,4.95],[2013.94,2.2],[2014.02,3.0],[2014.11,3.85],[2014.19,4.3],[2014.28,4.15],[2014.35,4.0],[2014.44,4.2],[2014.52,4.2],[2014.61,5.35],[2014.68,4.9],[2014.77,5.45],[2014.85,5.9],[2014.93,5.7],[2015.01,4.95],[2015.1,5.65],[2015.18,4.5],[2015.26,4.5],[2015.34,5.3],[2015.43,4.2],[2015.51,4.25],[2015.6,4.75],[2015.67,4.6],[2015.76,4.6],[2015.84,4.5],[2015.92,4.45],[2016.02,3.9],[2016.11,2.65],[2016.19,3.5],[2016.28,4.2],[2016.36,3.95],[2016.44,2.45],[2016.52,2.6],[2016.61,2.45],[2016.7,2.9],[2016.77,2.95],[2016.86,3.0],[2016.94,2.85],[2017.02,2.3],[2017.1,3.0],[2017.19,3.6],[2017.27,4.8],[2017.36,6.9],[2017.43,7.65],[2017.52,7.2],[2017.6,6.95],[2017.69,7.05],[2017.76,6.9],[2017.85,5.25],[2017.93,5.85],[2018.02,5.0],[2018.09,4.55],[2018.18,4.05],[2018.26,4.35],[2018.35,2.8],[2018.43,2.6],[2018.51,2.5],[2018.59,2.65],[2018.68,2.75],[2018.75,2.7],[2018.84,2.65],[2018.92,1.8],[2019.0,1.15],[2019.08,1.7],[2019.17,1.7],[2019.25,1.65],[2019.34,1.3],[2019.41,1.15],[2019.5,0.95],[2019.58,0.6],[2019.66,0.65],[2019.76,0.65]];
const TUR_SLO = [[2005.12,3.7],[2005.19,4.2],[2005.28,2.2],[2005.36,1.05],[2005.45,1.15],[2005.53,1.1],[2005.61,0.95],[2005.69,0.6],[2005.78,0.7],[2005.86,0.3],[2005.94,0.7],[2006.03,0.8],[2006.11,0.85],[2006.19,0.75],[2006.27,0.65],[2006.36,0.5],[2006.44,0.75],[2006.52,1.0],[2006.6,0.98],[2006.69,1.1],[2006.77,1.15],[2006.85,1.05],[2006.93,0.85],[2007.02,0.35],[2007.11,0.45],[2007.18,0.4],[2007.26,0.45],[2007.35,0.5],[2007.43,2.5],[2007.51,2.8],[2007.59,3.0],[2007.68,3.05],[2007.76,2.8],[2007.84,2.25],[2007.94,1.75],[2008.03,1.35],[2008.11,1.35],[2008.19,0.4],[2008.27,0.35],[2008.36,0.45],[2008.44,0.4],[2008.52,0.4],[2008.6,0.45],[2008.69,0.48],[2008.78,0.5],[2008.86,0.55],[2008.93,0.55],[2009.02,0.05],[2009.1,0.65],[2009.19,0.3],[2009.26,0.45],[2009.35,0.25],[2009.44,0.2],[2009.51,0.15],[2009.6,0.15],[2009.68,0.18],[2009.77,0.12],[2009.85,0.1],[2009.93,0.1],[2010.01,0.15],[2010.1,0.1],[2010.17,0.15],[2010.26,0.2],[2010.36,0.2],[2010.45,0.18],[2010.54,0.12],[2010.61,0.12],[2010.7,0.28],[2010.78,0.2],[2010.87,0.25],[2010.95,0.25],[2011.03,0.22],[2011.11,0.7],[2011.2,0.75],[2011.27,0.9],[2011.36,1.0],[2011.44,1.1],[2011.53,1.55],[2011.61,1.8],[2011.69,1.9],[2011.77,2.05],[2011.86,2.2],[2011.94,2.4],[2012.02,2.65],[2012.1,2.5],[2012.19,2.35],[2012.27,2.55],[2012.35,4.05],[2012.43,3.9],[2012.52,4.1],[2012.59,4.3],[2012.68,4.35],[2012.76,4.4],[2012.85,4.2],[2012.92,4.25],[2013.01,4.75],[2013.09,4.5],[2013.18,4.05],[2013.25,5.8],[2013.33,6.6],[2013.42,6.9],[2013.5,8.15],[2013.58,7.85],[2013.67,7.9],[2013.75,7.8],[2013.84,7.7],[2013.91,7.85],[2014.0,7.0],[2014.08,9.0],[2014.16,8.95],[2014.24,9.15],[2014.32,9.9],[2014.41,10.8],[2014.5,10.9],[2014.57,10.85],[2014.66,11.6],[2014.74,11.9],[2014.83,12.3],[2014.9,11.0],[2014.99,11.15],[2015.07,11.65],[2015.16,12.9],[2015.23,13.5],[2015.32,14.2],[2015.4,14.1],[2015.48,14.05],[2015.56,14.25],[2015.65,14.7],[2015.73,14.75],[2015.82,15.1],[2015.9,15.0],[2015.98,13.0],[2016.07,12.9],[2016.17,10.3],[2016.25,9.8],[2016.35,8.1],[2016.44,6.75],[2016.52,7.7],[2016.61,7.6],[2016.7,7.2],[2016.77,7.3],[2016.86,7.05],[2016.94,7.2],[2017.02,7.85],[2017.1,10.15],[2017.18,9.3],[2017.27,7.3],[2017.36,9.3],[2017.43,8.8],[2017.52,8.1],[2017.6,8.0],[2017.69,7.85],[2017.76,7.6],[2017.85,7.8],[2017.93,7.8],[2018.02,6.4],[2018.09,5.95],[2018.18,3.0],[2018.26,1.9],[2018.35,1.35],[2018.43,1.35],[2018.51,1.6],[2018.59,1.9],[2018.68,1.95],[2018.75,1.8],[2018.84,1.95],[2018.92,1.7],[2019.0,2.0],[2019.08,4.85],[2019.17,5.1],[2019.25,4.6],[2019.34,3.8],[2019.41,3.5],[2019.5,3.8],[2019.6,3.3],[2019.69,3.6],[2019.76,3.7]];

const IPI_SVA = [[2008.1,0.3],[2008.19,0.8],[2008.28,2.0],[2008.35,2.1],[2008.44,1.5],[2008.52,1.8],[2008.61,2.35],[2008.69,2.55],[2008.77,2.7],[2008.85,3.3],[2008.94,3.8],[2009.01,4.4],[2009.09,4.7],[2009.16,4.1],[2009.24,2.7],[2009.31,2.5],[2009.38,2.1],[2009.45,2.6],[2009.54,2.7],[2009.62,2.6],[2009.7,2.85],[2009.78,2.9],[2009.86,2.95],[2009.95,2.6],[2010.03,2.95],[2010.11,3.1],[2010.19,3.9],[2010.28,4.4],[2010.36,4.1],[2010.44,4.05],[2010.53,3.9],[2010.61,4.0],[2010.69,4.05],[2010.77,3.95],[2010.86,3.95],[2010.93,4.0],[2011.02,4.2],[2011.1,4.15],[2011.19,4.0],[2011.26,3.35],[2011.35,3.5],[2011.43,3.6],[2011.52,3.6],[2011.6,3.6],[2011.68,3.7],[2011.76,3.65],[2011.85,3.6],[2011.92,3.6],[2012.01,3.35],[2012.09,3.35],[2012.17,3.2],[2012.25,3.1],[2012.34,3.0],[2012.42,2.95],[2012.5,2.9],[2012.58,3.05],[2012.67,2.75],[2012.75,2.65],[2012.83,2.6],[2012.91,2.7],[2012.97,2.65],[2013.02,1.4],[2013.08,1.2],[2013.14,1.35],[2013.22,0.65],[2013.3,0.7],[2013.38,1.4],[2013.46,1.75],[2013.55,1.7],[2013.63,1.1],[2013.71,1.1],[2013.79,0.95],[2013.88,0.75],[2013.96,0.5],[2014.03,0.1],[2014.12,1.1],[2014.21,1.05],[2014.29,2.3],[2014.37,1.4],[2014.45,1.55],[2014.54,1.7],[2014.61,1.8],[2014.7,1.85],[2014.78,2.0],[2014.86,2.0],[2014.94,1.1],[2015.03,1.2],[2015.11,0.7],[2015.18,1.55],[2015.27,1.15],[2015.36,1.4],[2015.44,1.65],[2015.52,2.0],[2015.6,3.0],[2015.69,5.0],[2015.77,5.25],[2015.85,5.6],[2015.93,6.05],[2016.02,7.7],[2016.1,7.35],[2016.18,7.15],[2016.26,9.0],[2016.35,9.75],[2016.42,9.0],[2016.51,8.6],[2016.59,10.5],[2016.64,13.0],[2016.7,14.75],[2016.78,11.3],[2016.86,10.2],[2016.95,9.7],[2017.03,9.3],[2017.12,9.6],[2017.2,10.2],[2017.28,8.5],[2017.36,9.05],[2017.45,8.5],[2017.53,8.35],[2017.61,8.15],[2017.7,7.85],[2017.78,8.3],[2017.85,8.15],[2017.94,7.55],[2018.02,7.75],[2018.11,8.15],[2018.19,7.9],[2018.27,7.6],[2018.36,7.25],[2018.44,8.05],[2018.51,7.45],[2018.6,7.2],[2018.68,7.05],[2018.76,7.05],[2018.84,7.35],[2018.92,8.0],[2019.01,8.15],[2019.09,8.55],[2019.17,8.9],[2019.26,9.6],[2019.33,10.4],[2019.42,11.65],[2019.5,9.9],[2019.59,10.3],[2019.66,10.9],[2019.75,11.35]];
const TUR_SVA = [[2008.1,2.15],[2008.19,0.95],[2008.28,2.0],[2008.35,2.2],[2008.44,1.65],[2008.52,1.85],[2008.61,2.4],[2008.69,2.9],[2008.77,3.1],[2008.85,3.75],[2008.94,4.25],[2009.01,5.0],[2009.1,6.1],[2009.18,4.2],[2009.27,4.85],[2009.34,4.4],[2009.43,5.05],[2009.51,5.0],[2009.6,4.85],[2009.68,5.15],[2009.76,5.25],[2009.84,5.05],[2009.95,4.65],[2010.03,4.95],[2010.11,5.15],[2010.2,6.45],[2010.28,6.45],[2010.36,5.7],[2010.44,5.7],[2010.53,5.5],[2010.61,5.5],[2010.69,5.75],[2010.77,5.7],[2010.86,5.6],[2010.93,5.55],[2011.02,5.5],[2011.1,5.3],[2011.19,5.3],[2011.29,4.65],[2011.38,4.8],[2011.46,4.8],[2011.54,4.8],[2011.63,4.88],[2011.71,4.88],[2011.8,4.8],[2011.87,4.8],[2011.96,4.75],[2012.04,4.5],[2012.12,4.4],[2012.2,4.45],[2012.29,4.4],[2012.36,4.15],[2012.45,4.55],[2012.54,4.9],[2012.64,4.9],[2012.73,4.85],[2012.81,4.55],[2012.88,4.5],[2012.97,4.5],[2013.04,1.6],[2013.14,3.95],[2013.22,2.9],[2013.3,3.3],[2013.38,3.55],[2013.46,2.9],[2013.55,2.75],[2013.63,2.25],[2013.71,2.05],[2013.79,1.9],[2013.88,1.35],[2013.96,1.0],[2014.03,0.3],[2014.12,1.15],[2014.21,0.85],[2014.29,2.25],[2014.37,1.5],[2014.45,1.5],[2014.54,1.7],[2014.61,1.75],[2014.7,1.9],[2014.78,2.2],[2014.87,2.55],[2014.94,1.35],[2015.03,1.15],[2015.11,0.9],[2015.2,0.0],[2015.27,0.28],[2015.36,0.28],[2015.44,0.25],[2015.52,0.48],[2015.6,0.3],[2015.69,0.05],[2015.77,0.4],[2015.85,0.15],[2015.93,0.05],[2016.02,0.05],[2016.1,0.1],[2016.18,0.1],[2016.26,0.2],[2016.35,0.45],[2016.42,0.55],[2016.51,0.45],[2016.6,3.55],[2016.68,3.55],[2016.75,2.55],[2016.84,2.3],[2016.92,2.0],[2017.01,1.95],[2017.09,2.05],[2017.17,1.7],[2017.26,1.15],[2017.34,1.95],[2017.42,1.9],[2017.51,1.9],[2017.58,1.85],[2017.67,1.8],[2017.75,1.95],[2017.84,2.0],[2017.91,1.85],[2018.0,2.4],[2018.08,2.35],[2018.16,2.3],[2018.24,2.25],[2018.33,2.3],[2018.4,2.8],[2018.49,2.55],[2018.57,2.55],[2018.66,2.45],[2018.73,2.4],[2018.82,2.65],[2018.9,2.95],[2018.98,3.1],[2019.06,2.8],[2019.15,3.45],[2019.23,2.8],[2019.32,3.45],[2019.39,3.55],[2019.48,3.8],[2019.56,3.95],[2019.65,4.05],[2019.73,4.15],[2019.8,4.4]];

const BLUE = '#0000ff';
const RED = '#ff0000';
const SANS = '"Liberation Sans", Arial, Helvetica, sans-serif';
const SERIF = '"Palatino Linotype", "Book Antiqua", Palatino, "Liberation Serif", serif';

const QUARTER_TICKS = YEARS.flatMap((yr) => [yr, yr + 0.25, yr + 0.5, yr + 0.75]);

const toPoints = (pairs: number[][]) => pairs.map(([x, y]) => ({ x, y }));

// panels a and d were pasted at full size, the others at ~95%
const WIDE = { w: 1611, h: 997, s: 1 };
const NARROW = { w: 1532, h: 948, s: 0.951 };

const PANELS = [
  { id: 'a', ipi: IPI_BG, tur: TUR_BG, ipiName: 'FROM_IPI_BG', turName: 'FROM_TUR_BG', yTicks: Y_TICKS_8, plot: { x: 91, y: 69, ...WIDE }, legend: { x: 417, y: 1214 }, caption: { x: 870, y: 1346 } },
  { id: 'b', ipi: IPI_CZ, tur: TUR_CZ, ipiName: 'FROM_IPI_CZ', turName: 'FROM_TUR_CZ', yTicks: Y_TICKS_14, plot: { x: 1983, y: 66, ...NARROW }, legend: { x: 2300, y: 1156 }, caption: { x: 2715, y: 1294 } },
  { id: 'c', ipi: IPI_EST, tur: TUR_EST, ipiName: 'FROM_IPI_EST', turName: 'FROM_TUR_EST', yTicks: Y_TICKS_12, plot: { x: 140, y: 1442, ...NARROW }, legend: { x: 427, y: 2532 }, caption: { x: 870, y: 2669 } },
  { id: 'd', ipi: IPI_HU, tur: TUR_HU, ipiName: 'FROM_IPI_HU', turName: 'FROM_TUR_HU', yTicks: Y_TICKS_8, plot: { x: 1934, y: 1444, ...WIDE }, legend: { x: 2261, y: 2592 }, caption: { x: 2715, y: 2726 } },
  { id: 'e', ipi: IPI_LIT, tur: TUR_LIT, ipiName: 'FROM_IPI_LIT', turName: 'FROM_TUR_LIT', yTicks: Y_TICKS_12, plot: { x: 140, y: 2818, ...NARROW }, legend: { x: 452, y: 3908 }, caption: { x: 870, y: 4049 } },
  { id: 'f', ipi: IPI_RO, tur: TUR_RO, ipiName: 'FROM_IPI_RO', turName: 'FROM_TUR_RO', yTicks: Y_TICKS_12, plot: { x: 1983, y: 2818, ...NARROW }, legend: { x: 2292, y: 3908 }, caption: { x: 2715, y: 4049 } },
  { id: 'g', ipi: IPI_SLO, tur: TUR_SLO, ipiName: 'FROM_IPI_SLO', turName: 'FROM_TUR_SLO', yTicks: Y_TICKS_16, plot: { x: 140, y: 4131, ...NARROW }, legend: { x: 427, y: 5221 }, caption: { x: 870, y: 5362 } },
  { id: 'h', ipi: IPI_SVA, tur: TUR_SVA, ipiName: 'FROM_IPI_SVA', turName: 'FROM_TUR_SVA', yTicks: Y_TICKS_16, plot: { x: 1983, y: 4131, ...NARROW }, legend: { x: 2269, y: 5221 }, caption: { x: 2715, y: 5362 } },
];

// chart margins around the plot box; the axes get 1px so Recharts draws them
const ML = 139;
const MR = 30;
const MT = 60;
const MB = 109;
const AXIS = 1;

function XTick(props: any) {
  const { x, y, payload, s } = props;
  const v = payload.value;
  const frac = v - Math.floor(v);
  const isYear = frac < 0.01;
  const isMid = Math.abs(frac - 0.5) < 0.01;
  const label = isMid ? YEAR_LABELS[YEARS.indexOf(Math.floor(v))] : null;
  return (
    <g>
      <line x1={x} y1={y} x2={x} y2={y + (isYear ? 22 : 12) * s} stroke="#000" strokeWidth={3 * s} />
      {label && (
        <text x={x} y={y + 69 * s} textAnchor="middle" fontSize={43 * s} fontFamily={SANS} fill="#000">
          {label}
        </text>
      )}
    </g>
  );
}

function YTick(props: any) {
  const { x, y, payload, s } = props;
  return (
    <g>
      <line x1={x} y1={y} x2={x - 20 * s} y2={y} stroke="#000" strokeWidth={3 * s} />
      <text x={x - 34 * s} y={y + 3 * s} textAnchor="end" fontSize={43 * s} fontFamily={SANS} fill="#000">
        {payload.value}
      </text>
    </g>
  );
}

function LegendBox({ x, y, s, ipiName, turName }: any) {
  return (
    <div
      style={{
        position: 'absolute',
        left: x,
        top: y,
        height: 78 * s,
        boxSizing: 'border-box',
        border: `${3 * s}px solid #000`,
        display: 'flex',
        alignItems: 'center',
        padding: `0 ${24 * s}px 0 ${27 * s}px`,
        fontFamily: SANS,
        fontSize: 45 * s,
        lineHeight: 1,
        whiteSpace: 'nowrap',
        background: '#fff',
        color: '#000',
      }}
    >
      <span style={{ width: 89 * s, height: 11 * s, background: BLUE, marginRight: 22 * s }} />
      <span>{ipiName}</span>
      <span style={{ width: 92 * s, height: 3 * s, background: RED, marginLeft: 37 * s, marginRight: 20 * s }} />
      <span>{turName}</span>
    </div>
  );
}

function Panel({ p }: any) {
  const yMax = p.yTicks[p.yTicks.length - 1];
  const s = p.plot.s;
  return (
    <>
      <div style={{ position: 'absolute', left: p.plot.x - ML - AXIS, top: p.plot.y - MT }}>
        <LineChart
          width={p.plot.w + ML + AXIS + MR}
          height={p.plot.h + MT + MB + AXIS}
          margin={{ top: MT, right: MR, bottom: MB, left: ML }}
          style={{ overflow: 'visible' }}
        >
          <XAxis
            type="number"
            dataKey="x"
            domain={[X_MIN, X_MAX]}
            ticks={QUARTER_TICKS}
            interval={0}
            height={AXIS}
            tickSize={0}
            tickMargin={0}
            tickLine={false}
            axisLine={{ stroke: '#000', strokeWidth: 3 * s }}
            tick={(props: any) => <XTick {...props} s={s} />}
          />
          <YAxis
            type="number"
            domain={[0, yMax]}
            ticks={p.yTicks}
            interval={0}
            width={AXIS}
            tickSize={0}
            tickMargin={0}
            tickLine={false}
            axisLine={{ stroke: '#000', strokeWidth: 3 * s }}
            tick={(props: any) => <YTick {...props} s={s} />}
          />
          <ReferenceArea
            x1={X_MIN}
            x2={X_MAX}
            y1={0}
            y2={yMax}
            fill="none"
            fillOpacity={0}
            stroke="#000"
            strokeWidth={3 * s}
          />
          <Line
            data={toPoints(p.ipi)}
            dataKey="y"
            type="linear"
            stroke={BLUE}
            strokeWidth={10 * s}
            strokeLinejoin="round"
            dot={false}
            activeDot={false}
            isAnimationActive={false}
          />
          <Line
            data={toPoints(p.tur)}
            dataKey="y"
            type="linear"
            stroke={RED}
            strokeWidth={3 * s}
            strokeLinejoin="round"
            dot={false}
            activeDot={false}
            isAnimationActive={false}
          />
        </LineChart>
      </div>
      <LegendBox x={p.legend.x} y={p.legend.y} s={s} ipiName={p.ipiName} turName={p.turName} />
      <div
        style={{
          position: 'absolute',
          left: p.caption.x,
          top: p.caption.y,
          transform: 'translate(-50%, -50%)',
          fontFamily: SERIF,
          fontSize: 66,
          lineHeight: 1,
          color: '#000',
        }}
      >
        (<b>{p.id}</b>)
      </div>
    </>
  );
}

export default function App() {
  return (
    <div style={{ position: 'relative', width: 3557, height: 5420, background: '#fff', overflow: 'hidden' }}>
      <style>{'body{margin:0}'}</style>
      {PANELS.map((p) => (
        <Panel key={p.id} p={p} />
      ))}
    </div>
  );
}
